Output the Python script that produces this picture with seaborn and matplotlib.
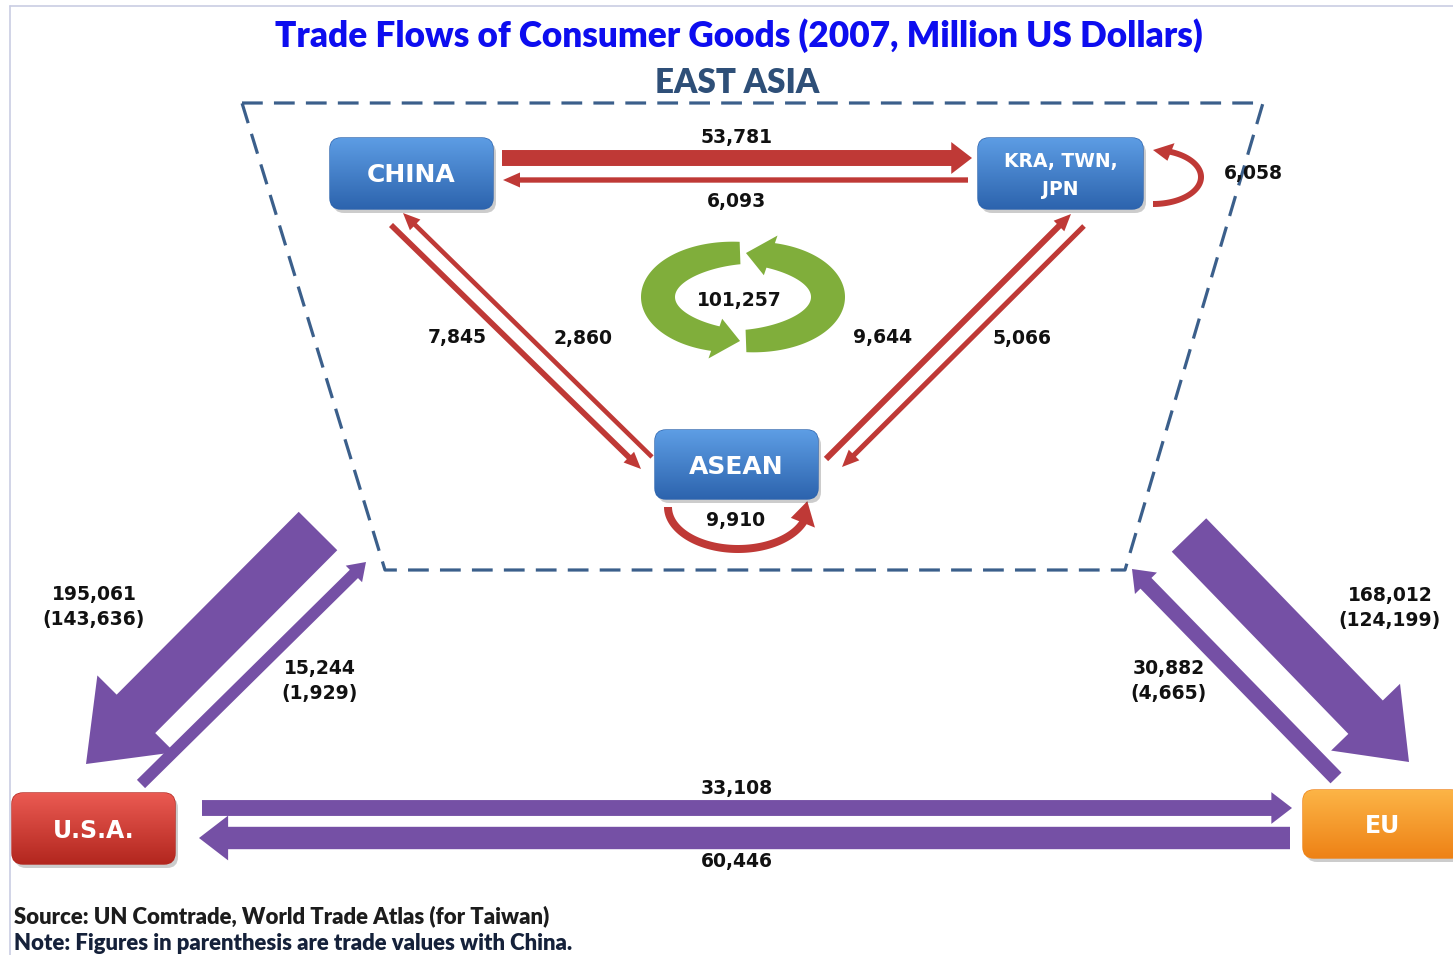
import numpy as np
import matplotlib
matplotlib.use("Agg")
import matplotlib.pyplot as plt
import seaborn as sns
from matplotlib.patches import FancyArrow, FancyBboxPatch, Polygon
from matplotlib.colors import LinearSegmentedColormap

# ---- data (million US$, 2007) ----
flow_names = ["China>KTJ", "KTJ>China", "China>ASEAN", "ASEAN>China",
              "ASEAN>KTJ", "KTJ>ASEAN", "EastAsia>USA", "USA>EastAsia",
              "EastAsia>EU", "EU>EastAsia", "USA>EU", "EU>USA"]
flow_values = [53781, 6093, 7845, 2860, 9644, 5066,
               195061, 15244, 168012, 30882, 33108, 60446]
flow_with_china = [None, None, None, None, None, None,
                   143636, 1929, 124199, 4665, None, None]
intra_names = ["KTJ", "ASEAN", "EastAsia"]
intra_values = [6058, 9910, 101257]

node_names = ["CHINA", "KTJ", "ASEAN", "USA", "EU"]
node_labels = ["CHINA", "KRA, TWN,\nJPN", "ASEAN", "U.S.A.", "EU"]

# ---- layout (pixel space, y down) ----
node_box = {"CHINA": (330, 138, 493, 209), "KTJ": (978, 138, 1143, 209),
            "ASEAN": (655, 430, 818, 499), "USA": (12, 793, 175, 864),
            "EU": (1303, 790, 1462, 858)}
node_style = {"CHINA": ("#5d9de4", "#2d64ae", 18), "KTJ": ("#5d9de4", "#2d64ae", 13.5),
              "ASEAN": ("#5d9de4", "#2d64ae", 18), "USA": ("#ea5a52", "#b3271f", 17),
              "EU": ("#fcb446", "#ee8216", 17)}
routes = {"China>KTJ": ((502, 158), (972, 158)), "KTJ>China": ((968, 180), (503, 180)),
          "China>ASEAN": ((391, 225), (641, 469)), "ASEAN>China": ((652, 457), (403, 213)),
          "ASEAN>KTJ": ((826, 459), (1071, 214)), "KTJ>ASEAN": ((1084, 226), (842, 467)),
          "EastAsia>USA": ((318, 531), (86, 764)), "USA>EastAsia": ((141, 784), (366, 562)),
          "EastAsia>EU": ((1189, 535), (1409, 762)), "EU>EastAsia": ((1336, 778), (1132, 569)),
          "USA>EU": ((202, 808), (1292, 808)), "EU>USA": ((1290, 838), (199, 838))}
label_pos = {"China>KTJ": (737, 137), "KTJ>China": (736, 201),
             "China>ASEAN": (457, 337), "ASEAN>China": (583, 338),
             "ASEAN>KTJ": (883, 337), "KTJ>ASEAN": (1022, 338),
             "EastAsia>USA": (94, 594), "USA>EastAsia": (320, 668),
             "EastAsia>EU": (1390, 595), "EU>EastAsia": (1169, 668),
             "USA>EU": (737, 788), "EU>USA": (737, 861)}
intra_label_pos = {"KTJ": (1253, 173), "ASEAN": (736, 520), "EastAsia": (739, 300)}

RED = "#bf3936"
PURPLE = "#7550a5"
GREEN = "#80ae3b"

sns.set_theme(style="white")
plt.rcParams["font.family"] = ["DejaVu Sans"]

fig = plt.figure(figsize=(14.53, 9.55), dpi=100)
ax = fig.add_axes([0, 0, 1, 1])
ax.axis("off")

# page frame
ax.plot([10, 1453], [6, 6], color="#c9cde3", lw=1.2)
ax.plot([10, 10], [6, 955], color="#c9cde3", lw=1.2)

# East Asia region
ax.plot([242, 1263, 1125, 385, 242], [103, 103, 570, 570, 103],
        color="#3b5f8b", lw=2.3, ls=(0, (6.5, 3.5)), zorder=1)

ax.text(739, 36, "Trade Flows of Consumer Goods (2007, Million US Dollars)",
        ha="center", va="center", fontsize=25.3, fontweight="heavy",
        color="#0d0def", family="Lato")
ax.text(737, 83, "EAST ASIA", ha="center", va="center", fontsize=23.8,
        fontweight="heavy", color="#2e4f78", family="Lato")


def draw_box(name, label):
    x0, y0, x1, y1 = node_box[name]
    top, bottom, size = node_style[name]
    shadow = FancyBboxPatch((x0 + 3, y0 + 4), x1 - x0, y1 - y0,
                            boxstyle="round,pad=0,rounding_size=11",
                            fc="black", alpha=0.2, ec="none", zorder=3)
    ax.add_patch(shadow)
    box = FancyBboxPatch((x0, y0), x1 - x0, y1 - y0,
                         boxstyle="round,pad=0,rounding_size=11",
                         fc=bottom, ec=bottom, lw=1, zorder=4)
    ax.add_patch(box)
    cmap = LinearSegmentedColormap.from_list(name, [top, bottom])
    im = ax.imshow(np.linspace(0, 1, 64).reshape(-1, 1), extent=(x0, x1, y1, y0),
                   cmap=cmap, aspect="auto", zorder=5, interpolation="bilinear")
    im.set_clip_path(box)
    ax.text((x0 + x1) / 2, (y0 + y1) / 2 + 2, label, ha="center", va="center",
            fontsize=size, fontweight="bold", color="white", zorder=6,
            linespacing=1.55)


def straight_arrow(name, value, color, base, scale):
    (xa, ya), (xb, yb) = routes[name]
    w = base + value / scale
    hw = max(2 * w, 15)
    hl = max(1.3 * w, 17)
    ax.add_patch(FancyArrow(xa, ya, xb - xa, yb - ya, width=w,
                            length_includes_head=True, head_width=hw,
                            head_length=hl, fc=color, ec="none", zorder=2))


def ring_arrow(cx, cy, rx, ry, t0, t1, width, head_w, head_len, color, widen=0.0):
    t0, t1, head_len = np.radians(t0), np.radians(t1), np.radians(head_len)
    sgn = np.sign(t1 - t0)
    tb = t1 - sgn * head_len
    ts = np.linspace(t0, tb, 120)
    w = width + widen * np.abs(np.cos(ts))
    outer = np.c_[cx + (rx + w / 2) * np.cos(ts), cy + (ry + w / 2) * np.sin(ts)]
    inner = np.c_[cx + (rx - w / 2) * np.cos(ts), cy + (ry - w / 2) * np.sin(ts)]
    head = np.array([[cx + (rx + head_w / 2) * np.cos(tb), cy + (ry + head_w / 2) * np.sin(tb)],
                     [cx + rx * np.cos(t1), cy + ry * np.sin(t1)],
                     [cx + (rx - head_w / 2) * np.cos(tb), cy + (ry - head_w / 2) * np.sin(tb)]])
    ax.add_patch(Polygon(np.vstack([outer, head, inner[::-1]]), closed=True,
                         fc=color, ec="none", zorder=2))


for name, label in zip(node_names, node_labels):
    draw_box(name, label)

for name, value, china in zip(flow_names, flow_values, flow_with_china):
    if name.startswith(("EastAsia", "USA", "EU")):
        straight_arrow(name, value, PURPLE, 8, 4200)
    else:
        straight_arrow(name, value, RED, 4, 4500)
    text = f"{value:,}" if china is None else f"{value:,}\n({china:,})"
    lx, ly = label_pos[name]
    if china is not None:
        ly += 13
    ax.text(lx, ly, text, ha="center", va="center", fontsize=13.5,
            fontweight="bold", color="#111111", zorder=7, linespacing=1.4)

# intra-regional trade loops
ring_arrow(1153, 177, 48, 27, 90, -90, 6, 19, 22, RED)
ring_arrow(738, 507, 70, 42, 180, -8, 8, 26, 30, RED)
ring_arrow(743, 297, 85, 44, -92, -268, 22, 42, 17, GREEN, widen=12)
ring_arrow(743, 297, 85, 44, 88, -88, 22, 42, 17, GREEN, widen=12)

for name, value in zip(intra_names, intra_values):
    lx, ly = intra_label_pos[name]
    ax.text(lx, ly, f"{value:,}", ha="center", va="center", fontsize=13.5,
            fontweight="bold", color="#111111", zorder=7)

ax.text(14, 916, "Source: UN Comtrade, World Trade Atlas (for Taiwan)",
        ha="left", va="center", fontsize=15.9, fontweight="heavy",
        color="#1c1c1c", family="Lato")
ax.text(14, 943, "Note: Figures in parenthesis are trade values with China.",
        ha="left", va="center", fontsize=15.9, fontweight="heavy",
        color="#15213a", family="Lato")

ax.set_xlim(0, 1453)
ax.set_ylim(955, 0)
fig.savefig("out.png", dpi=100)
